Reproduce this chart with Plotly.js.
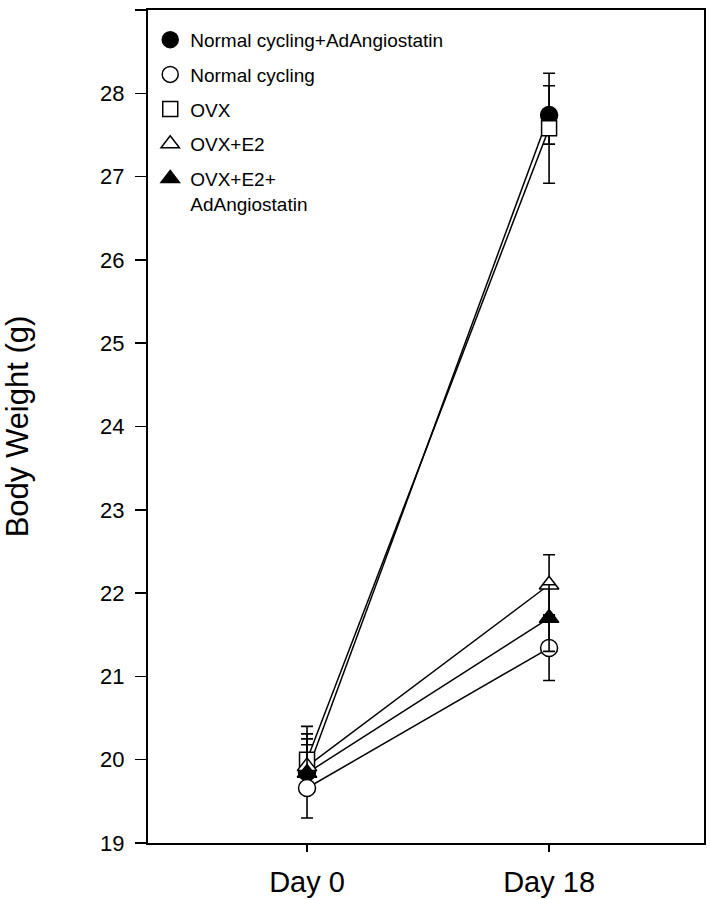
<!DOCTYPE html>
<html>
<head>
<meta charset="utf-8">
<script src="https://cdn.plot.ly/plotly-3.0.1.min.js"></script>
<style>html,body{margin:0;padding:0;background:#fff;}#chart{width:710px;height:900px;}</style>
</head>
<body>
<div id="chart"></div>
<script>
// Time points
const days = ["Day 0", "Day 18"];

// Series names (legend order)
const seriesNames = ["Normal cycling+AdAngiostatin", "Normal cycling", "OVX", "OVX+E2", "OVX+E2+<br>AdAngiostatin"];

// Mean body weight (g)
const ncAng = [19.85, 27.74];
const nc = [19.66, 21.34];
const ovx = [20.00, 27.58];
const ovxE2 = [19.92, 22.10];
const ovxE2Ang = [19.84, 21.70];

// Error bars (up / down)
const ncAngUp = [0.33, 0.35], ncAngDown = [0.0, 0.35];
const ncUp = [0.0, 0.39], ncDown = [0.36, 0.39];
const ovxUp = [0.40, 0.66], ovxDown = [0.0, 0.66];
const ovxE2Up = [0.39, 0.36], ovxE2Down = [0.0, 0.36];
const ovxE2AngUp = [0.41, 0.40], ovxE2AngDown = [0.0, 0.40];

const yTicks = [19, 20, 21, 22, 23, 24, 25, 26, 27, 28, 29];

const means = [ncAng, nc, ovx, ovxE2, ovxE2Ang];
const ups = [ncAngUp, ncUp, ovxUp, ovxE2Up, ovxE2AngUp];
const downs = [ncAngDown, ncDown, ovxDown, ovxE2Down, ovxE2AngDown];
const symbols = ["circle", "circle-open", "square-open", "triangle-up-open", "triangle-up"];

const traces = [];
// connecting lines (not in legend)
means.forEach((m, i) => {
  traces.push({
    x: [0, 1], y: m, mode: "lines", type: "scatter",
    line: {color: "#000", width: 1.5}, showlegend: false, hoverinfo: "skip"
  });
});
// markers with error bars
means.forEach((m, i) => {
  const open = symbols[i].indexOf("open") >= 0;
  const base = symbols[i].replace("-open", "");
  traces.push({
    x: [0, 1], y: m, mode: "markers", type: "scatter", name: seriesNames[i],
    legendgroup: "g" + i,
    marker: {symbol: base, size: base === "square" ? 15 : 17,
             color: open ? "#fff" : "#000", line: {color: "#000", width: 1.5}},
    error_y: {type: "data", symmetric: false, array: ups[i], arrayminus: downs[i],
              color: "#000", thickness: 1.6, width: 6}
  });
});

const layout = {
  width: 710, height: 900,
  margin: {l: 148, r: 6, t: 10, b: 57},
  paper_bgcolor: "#fff", plot_bgcolor: "#fff",
  font: {family: "Liberation Sans, Arial, sans-serif", color: "#000"},
  showlegend: true,
  legend: {x: 0.004, y: 0.987, xanchor: "left", yanchor: "top",
           font: {size: 19, color: "#000"}, bgcolor: "rgba(0,0,0,0)",
           traceorder: "grouped", tracegroupgap: 7, valign: "top", itemsizing: "trace"},
  xaxis: {
    range: [-0.657, 1.64], tickvals: [0, 1], ticktext: days,
    showgrid: false, zeroline: false, showline: true, linecolor: "#000", linewidth: 2,
    mirror: true, ticks: "outside", ticklen: 7, tickwidth: 1.5, tickcolor: "#000",
    tickfont: {size: 29}, ticklabelstandoff: 5
  },
  yaxis: {
    range: [19, 29], tickvals: yTicks,
    showgrid: false, zeroline: false, showline: true, linecolor: "#000", linewidth: 2,
    mirror: true, ticks: "outside", ticklen: 11, tickwidth: 1.5, tickcolor: "#000",
    tickfont: {size: 22}, ticklabelstandoff: 6,
    title: {text: "Body Weight (g)", font: {size: 31}, standoff: 64}
  }
};

Plotly.newPlot("chart", traces, layout, {staticPlot: true});
</script>
</body>
</html>
